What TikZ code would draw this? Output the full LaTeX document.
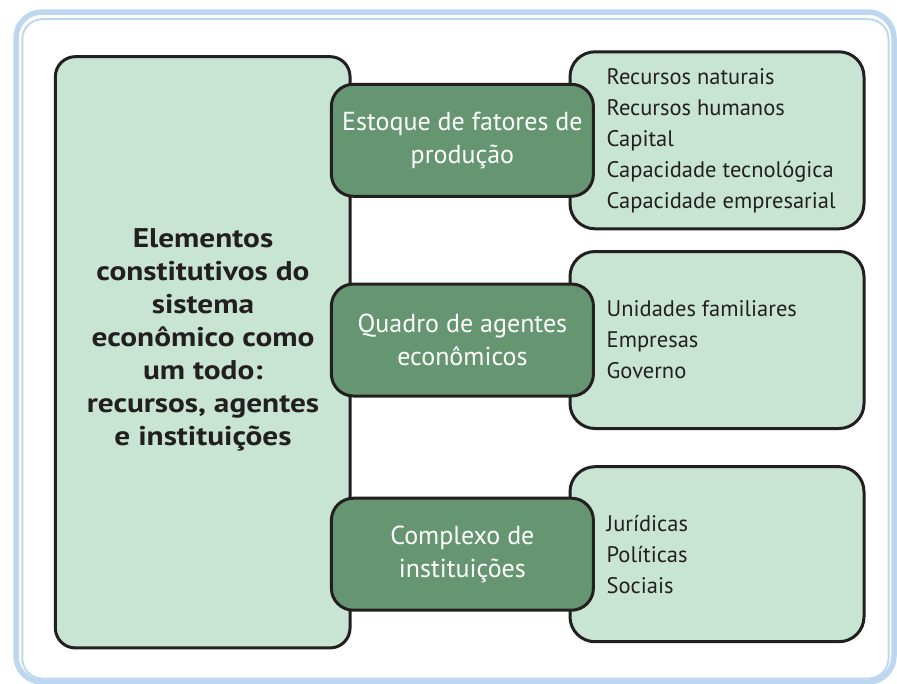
\documentclass[tikz,border=0pt]{standalone}
\usepackage{fontspec}
\setmainfont{PT Sans}
\newfontfamily\wideSans[FakeStretch=1.16]{PT Sans}
\usetikzlibrary{positioning}

\definecolor{paleGreen}{RGB}{200,229,212}
\definecolor{deepGreen}{RGB}{101,150,113}
\definecolor{inkBlack}{RGB}{35,31,32}
\definecolor{frameBlue}{RGB}{190,215,240}

\begin{document}
\begin{tikzpicture} [x=1pt, y=-1pt, node distance = 254.6pt, on grid,
        panel/.style = {draw=inkBlack, line width=3pt, fill=paleGreen, inner sep=0pt},
        factor/.style = {draw=inkBlack, line width=3pt, fill=deepGreen, rounded corners=22pt,
            minimum width=262pt, minimum height=112pt, align=center, text=white,
            font=\fontsize{26}{33}\selectfont},
        items/.style = {align=left, text=inkBlack, inner sep=0pt, anchor=west,
            font=\fontsize{22.5}{31}\selectfont}]
        \useasboundingbox (0,0) rectangle (897,683);

        % double blue frame
        \draw [frameBlue, line width=5.5pt, rounded corners=26pt] (16,12) rectangle (894,682);
        \draw [frameBlue, line width=2pt, rounded corners=20pt] (22.3,19.2) rectangle (888.5,678.5);

        \node (whole) [panel, rounded corners=20pt, minimum width=294.7pt, minimum height=591.3pt] at (202.7,352.3) {};
        \node (wholeText) [align=center, text=inkBlack, font=\wideSans\bfseries\fontsize{27}{33}\selectfont] at (203,340)
            {Elementos\\constitutivos do\\sistema\\econômico como\\um todo:\\recursos, agentes\\e instituições};

        \node (r1) [panel, rounded corners=25pt, minimum width=294pt, minimum height=177pt] at (717,140.3) {};
        \node (r2) [panel, rounded corners=25pt, minimum width=294pt, minimum height=177pt] at (717,340) {};
        \node (r3) [panel, rounded corners=25pt, minimum width=294pt, minimum height=175pt] at (717,554.2) {};

        \node (l1) [items, right = 38pt of r1.west, anchor=west]
            {Recursos naturais\\Recursos humanos\\Capital\\Capacidade tecnológica\\Capacidade empresarial};
        \node (l2) [items, right = 38pt of r2.west, anchor=west] {Unidades familiares\\Empresas\\Governo};
        \node (l3) [items, right = 38pt of r3.west, anchor=west] {Jurídicas\\Políticas\\Sociais};

        \node (f1) [factor, left = of r1] {Estoque de fatores de\\produção};
        \node (f2) [factor, left = of r2] {Quadro de agentes\\econômicos};
        \node (f3) [factor, left = of r3] {Complexo de\\instituições};
    \end{tikzpicture}
\end{document}
